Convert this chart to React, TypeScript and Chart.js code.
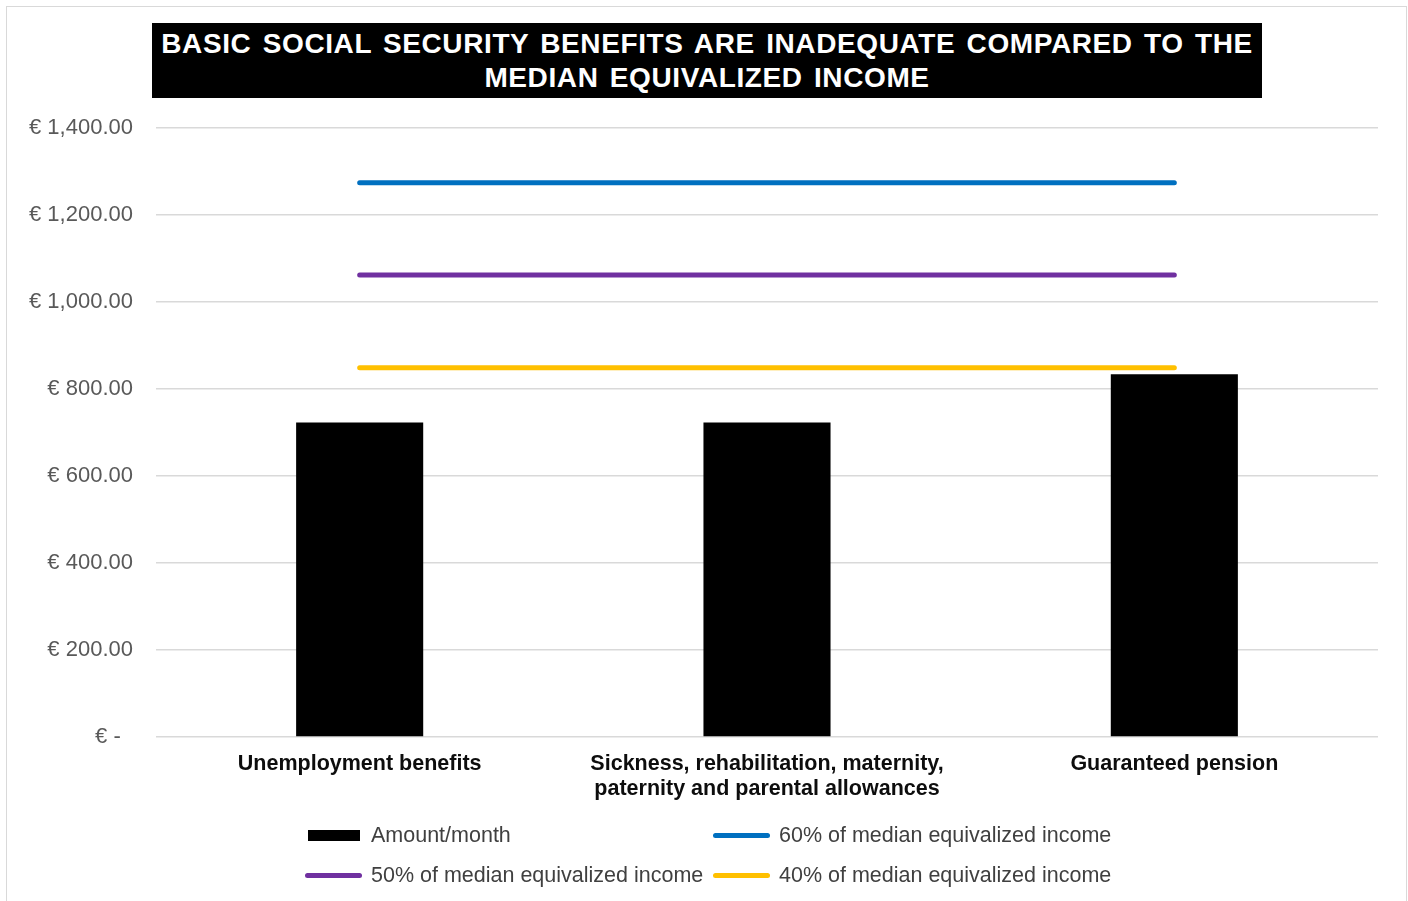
import React, { useEffect, useRef } from "react";
import { Chart, registerables } from "chart.js";

Chart.register(...registerables);

// Benefit categories (multi-line labels as arrays)
const categories: string[][] = [
  ["Unemployment benefits"],
  ["Sickness, rehabilitation, maternity,", "paternity and parental allowances"],
  ["Guaranteed pension"],
];

// Monthly amounts in euros
const amountPerMonth = [723, 723, 834];

// Poverty thresholds as shares of the median equivalized income
const median60 = [1274, 1274, 1274];
const median50 = [1062, 1062, 1062];
const median40 = [849, 849, 849];

const seriesNames = [
  "Amount/month",
  "60% of median equivalized income",
  "50% of median equivalized income",
  "40% of median equivalized income",
];

const titleLines = [
  "BASIC SOCIAL SECURITY BENEFITS ARE INADEQUATE COMPARED TO THE",
  "MEDIAN EQUIVALIZED INCOME",
];

const Y_MIN = 0;
const Y_MAX = 1400;
const Y_STEP = 200;

const COLORS = {
  bar: "#000000",
  p60: "#0070C0",
  p50: "#7030A0",
  p40: "#FFC000",
  grid: "#D9D9D9",
  tick: "#595959",
  legend: "#404040",
};

const FONT = "'Liberation Sans', Arial, sans-serif";

// Accounting-style euro format: zero shows as a dash, padded like the digits
const formatEuro = (v: number) =>
  v === 0
    ? "€ -\u2007"
    : "€ " +
      v.toLocaleString("en-US", {
        minimumFractionDigits: 2,
        maximumFractionDigits: 2,
      });

function LegendMarker({ color, kind }: { color: string; kind: "bar" | "line" }) {
  if (kind === "bar") {
    return (
      <span
        style={{
          display: "inline-block",
          width: 52,
          height: 11,
          background: color,
          marginRight: 11,
        }}
      />
    );
  }
  return (
    <span
      style={{
        display: "inline-block",
        width: 57,
        height: 5,
        borderRadius: 3,
        background: color,
        marginLeft: -3,
        marginRight: 9,
      }}
    />
  );
}

export default function App() {
  const canvasRef = useRef<HTMLCanvasElement | null>(null);

  useEffect(() => {
    const canvas = canvasRef.current;
    if (!canvas) return;

    const lineDataset = (label: string, data: number[], color: string) => ({
      type: "line" as const,
      label,
      data,
      borderColor: color,
      backgroundColor: color,
      borderWidth: 5,
      borderCapStyle: "round" as const,
      pointRadius: 0,
      pointHoverRadius: 0,
      fill: false,
      order: 0,
    });

    const chart = new Chart(canvas, {
      type: "bar",
      data: {
        labels: categories,
        datasets: [
          {
            type: "bar",
            label: seriesNames[0],
            data: amountPerMonth,
            backgroundColor: COLORS.bar,
            borderWidth: 0,
            barPercentage: 0.312,
            categoryPercentage: 1,
            order: 1,
          },
          lineDataset(seriesNames[1], median60, COLORS.p60),
          lineDataset(seriesNames[2], median50, COLORS.p50),
          lineDataset(seriesNames[3], median40, COLORS.p40),
        ] as any,
      },
      options: {
        animation: false,
        responsive: false,
        maintainAspectRatio: false,
        layout: { padding: { top: 128, right: 30, bottom: 0, left: 0 } },
        plugins: {
          legend: { display: false },
          title: { display: false },
          tooltip: { enabled: false },
        },
        scales: {
          x: {
            grid: { display: false },
            border: { display: false },
            ticks: {
              color: "#0D0D0D",
              padding: 7,
              maxRotation: 0,
              autoSkip: false,
              font: { family: FONT, size: 21.5, weight: "bold", lineHeight: 1.16 },
            },
            afterFit: (scale: any) => {
              scale.height = 164;
            },
          },
          y: {
            min: Y_MIN,
            max: Y_MAX,
            grid: {
              color: COLORS.grid,
              lineWidth: 1.5,
              drawTicks: false,
            },
            border: { display: false },
            ticks: {
              stepSize: Y_STEP,
              color: COLORS.tick,
              padding: 23,
              font: { family: FONT, size: 22 },
              callback: (v: any) => formatEuro(Number(v)),
            },
            afterFit: (scale: any) => {
              scale.width = 156;
            },
          },
        },
      },
    });

    return () => chart.destroy();
  }, []);

  const legendItems = [
    { name: seriesNames[0], color: COLORS.bar, kind: "bar" as const },
    { name: seriesNames[1], color: COLORS.p60, kind: "line" as const },
    { name: seriesNames[2], color: COLORS.p50, kind: "line" as const },
    { name: seriesNames[3], color: COLORS.p40, kind: "line" as const },
  ];

  return (
    <div
      style={{
        position: "fixed",
        left: 0,
        top: 0,
        width: 1408,
        height: 901,
        background: "#fff",
        overflow: "hidden",
        fontFamily: FONT,
      }}
    >
      <div
        style={{
          position: "absolute",
          left: 6,
          top: 6,
          width: 1399,
          height: 910,
          border: "1.5px solid #D9D9D9",
        }}
      />
      <canvas
        ref={canvasRef}
        width={1408}
        height={901}
        style={{ position: "absolute", left: 0, top: 0, width: 1408, height: 901 }}
      />
      <div
        style={{
          position: "absolute",
          left: 152,
          top: 23,
          width: 1110,
          height: 75,
          background: "#000",
          color: "#fff",
          fontWeight: "bold",
          fontSize: 28,
          lineHeight: "34px",
          textAlign: "center",
          boxSizing: "border-box",
          paddingTop: 4,
          wordSpacing: 3,
          letterSpacing: 0.6,
          whiteSpace: "nowrap",
        }}
      >
        {titleLines.map((t, i) => (
          <div key={i}>{t}</div>
        ))}
      </div>
      <div
        style={{
          position: "absolute",
          left: 308,
          top: 820,
          display: "grid",
          gridTemplateColumns: "408px auto",
          rowGap: 10,
          fontSize: 21.5,
          lineHeight: "30px",
          color: COLORS.legend,
        }}
      >
        {legendItems.map((it) => (
          <div key={it.name} style={{ display: "flex", alignItems: "center", whiteSpace: "nowrap" }}>
            <LegendMarker color={it.color} kind={it.kind} />
            <span>{it.name}</span>
          </div>
        ))}
      </div>
    </div>
  );
}
